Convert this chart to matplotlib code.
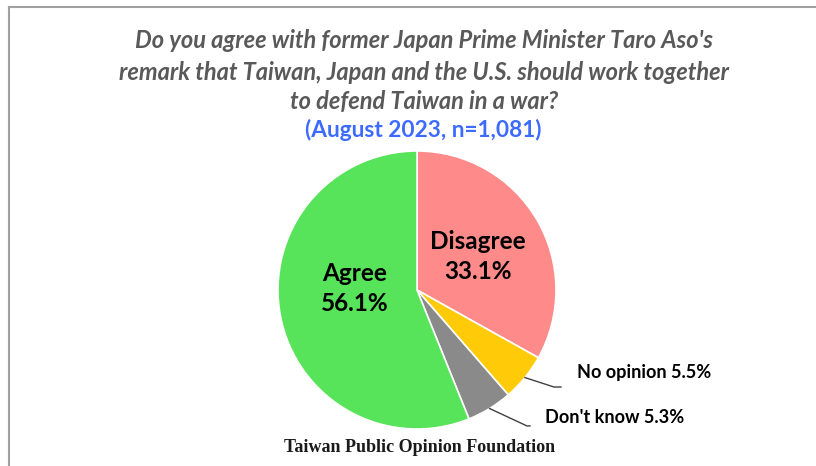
import matplotlib
matplotlib.use("Agg")
import matplotlib.pyplot as plt
import numpy as np

categories = ["Disagree", "No opinion", "Don't know", "Agree"]
values = [33.1, 5.5, 5.3, 56.1]
colors = ["#FF8A8A", "#FFCA08", "#8A8A8A", "#57E35A"]

title_lines = ["Do you agree with former Japan Prime Minister Taro Aso's",
               "remark that Taiwan, Japan and the U.S. should work together",
               "to defend Taiwan in a war?"]
subtitle = "(August 2023, n=1,081)"
source = "Taiwan Public Opinion Foundation"

W, H = 816, 466
fig = plt.figure(figsize=(W / 100, H / 100), dpi=100)
fig.patch.set_facecolor("white")

# border lines (top and left)
fig.add_artist(plt.Line2D([9 / W, 1.0], [1 - 7 / H, 1 - 7 / H], color="#A0A0A0", lw=1.5))
fig.add_artist(plt.Line2D([9 / W, 9 / W], [0, 1 - 7 / H], color="#A0A0A0", lw=1.5))

cx, cy, r = 417, 290, 139
ax = fig.add_axes([(cx - r) / W, (H - cy - r) / H, 2 * r / W, 2 * r / H])
wedges, _ = ax.pie(values, colors=colors, startangle=90, counterclock=False,
                   wedgeprops=dict(edgecolor="white", linewidth=1.2))
ax.set_xlim(-1, 1)
ax.set_ylim(-1, 1)
ax.set_aspect("equal")
ax.axis("off")

lab_font = dict(family="Lato", weight="bold", color="black")
# inside labels
ax.text(0.44, 0.241, f"{categories[0]}\n{values[0]}%", ha="center", va="center",
        fontsize=17.5, linespacing=1.36, **lab_font)
ax.text(-0.446, 0.011, f"{categories[3]}\n{values[3]}%", ha="center", va="center",
        fontsize=17.5, linespacing=1.36, **lab_font)

# outside labels with leader lines
outside = {1: ((0.986, -0.698), (1.036, -0.698), (1.15, -0.59)),
           2: ((0.791, -0.978), (0.813, -0.978), (0.92, -0.92))}
for i, (elbow, end, tpos) in outside.items():
    w = wedges[i]
    ang = np.deg2rad((w.theta1 + w.theta2) / 2)
    x0, y0 = np.cos(ang), np.sin(ang)
    ax.plot([x0, elbow[0], end[0]], [y0, elbow[1], end[1]], color="#404040", lw=1.0,
            clip_on=False)
    ax.text(tpos[0], tpos[1], f"{categories[i]} {values[i]}%", ha="left", va="center",
            fontsize=13.1, **lab_font)

title_font = dict(family="Lato", weight="bold", style="italic", color="#595959")
ys = [41, 72, 102]
for line, y in zip(title_lines, ys):
    fig.text(424 / W, 1 - y / H, line, ha="center", va="center", fontsize=17, **title_font)
fig.text(423 / W, 1 - 130 / H, subtitle, ha="center", va="center", fontsize=16.3,
         family="Lato", weight="bold", color="#3D6BFF")

fig.text(420 / W, 1 - 448 / H, source, ha="center", va="center", fontsize=13,
         family="Liberation Serif", weight="bold", color="#1A1A1A")

fig.savefig("out.png", dpi=100, facecolor="white")
